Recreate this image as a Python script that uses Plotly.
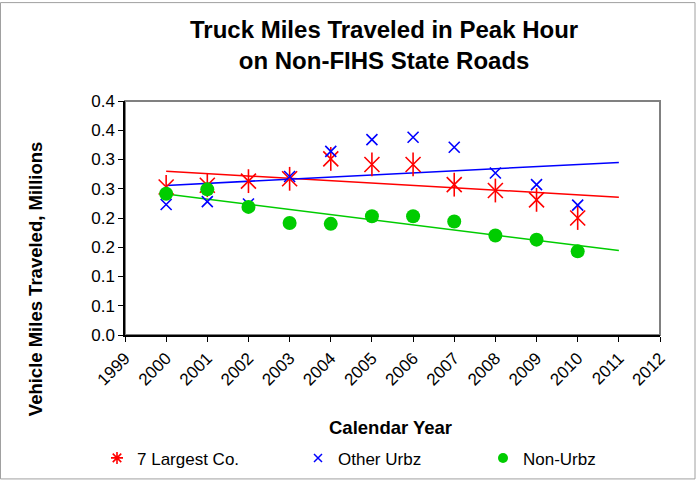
import numpy as np
import plotly.graph_objects as go

years = [2000, 2001, 2002, 2003, 2004, 2005, 2006, 2007, 2008, 2009, 2010]
largest7 = [0.253, 0.256, 0.263, 0.267, 0.301, 0.2915, 0.2915, 0.257, 0.247, 0.231, 0.200]
other_urbz = [0.223, 0.228, 0.224, 0.271, 0.314, 0.334, 0.338, 0.321, 0.277, 0.257, 0.222]
non_urbz = [0.2415, 0.249, 0.219, 0.1915, 0.190, 0.203, 0.203, 0.194, 0.170, 0.163, 0.143]

y_tickvals = [0, 0.05, 0.1, 0.15, 0.2, 0.25, 0.3, 0.35, 0.4]
y_ticktext = ["0.0", "0.1", "0.1", "0.2", "0.2", "0.3", "0.3", "0.4", "0.4"]
x_tickvals = list(range(1999, 2013))

RED, BLUE, GREEN = "#FF0000", "#0000FF", "#00CC00"
FONT = "Liberation Sans, Arial, sans-serif"

fig = go.Figure()

# linear trendlines, forecast forward 1 period
trend_x = [years[0], years[-1] + 1]
for vals, col in [(largest7, RED), (other_urbz, BLUE), (non_urbz, GREEN)]:
    m, b = np.polyfit(years, vals, 1)
    fig.add_trace(go.Scatter(x=trend_x, y=[m * x + b for x in trend_x], mode="lines",
                             line=dict(color=col, width=1.5), showlegend=False, hoverinfo="skip"))

# 7 Largest: star made of x + vertical line
fig.add_trace(go.Scatter(x=years, y=largest7, mode="markers", showlegend=False,
                         marker=dict(symbol="x-thin-open", size=15, color=RED, line=dict(width=1.6))))
fig.add_trace(go.Scatter(x=years, y=largest7, mode="markers", showlegend=False,
                         marker=dict(symbol="line-ns-open", size=17, color=RED, line=dict(width=1.6))))
fig.add_trace(go.Scatter(x=years, y=other_urbz, mode="markers", showlegend=False,
                         marker=dict(symbol="x-thin-open", size=11, color=BLUE, line=dict(width=1.6))))
fig.add_trace(go.Scatter(x=years, y=non_urbz, mode="markers", showlegend=False,
                         marker=dict(symbol="circle", size=14, color=GREEN)))

# legend entries with small symbols (as in the reference legend)
fig.add_trace(go.Scatter(x=[None], y=[None], mode="markers", name="7 Largest Co.", legend="legend",
                         marker=dict(symbol="asterisk-open", size=10, color=RED, line=dict(width=1.6))))
fig.add_trace(go.Scatter(x=[None], y=[None], mode="markers", name="Other Urbz", legend="legend2",
                         marker=dict(symbol="x-thin-open", size=8, color=BLUE, line=dict(width=1.5))))
fig.add_trace(go.Scatter(x=[None], y=[None], mode="markers", name="Non-Urbz", legend="legend3",
                         marker=dict(symbol="circle", size=10, color=GREEN)))

L, R, T, B = 125, 40, 101, 149
PW, PH = 700 - L - R, 489 - T - B

def px_x(p):
    return (p - L) / PW

def px_y(p):
    return (489 - B - p) / PH

def leg(xpix):
    return dict(orientation="h", x=px_x(xpix), y=px_y(466), xanchor="left", yanchor="middle",
                font=dict(size=17, family=FONT), itemwidth=30, bgcolor="rgba(0,0,0,0)")

fig.update_layout(
    width=700, height=489,
    margin=dict(l=L, r=R, t=T, b=B),
    paper_bgcolor="white", plot_bgcolor="white",
    font=dict(family=FONT, size=17, color="black"),
    showlegend=True,
    legend=leg(97), legend2=leg(298), legend3=leg(483),
    xaxis=dict(range=[1999, 2012], tickvals=x_tickvals, tickangle=-45, automargin=False,
               showline=True, linecolor="black", linewidth=1.5,
               ticks="outside", ticklen=5, tickcolor="black", showgrid=False, zeroline=False),
    yaxis=dict(range=[0, 0.4], tickvals=y_tickvals, ticktext=y_ticktext, automargin=False,
               showline=True, linecolor="black", linewidth=1.5,
               ticks="outside", ticklen=5, tickcolor="black", showgrid=False, zeroline=False),
    annotations=[
        dict(text="<b>Truck Miles Traveled in Peak Hour<br>on Non-FIHS State Roads</b>",
             xref="paper", yref="paper", x=px_x(384), y=px_y(44), showarrow=False,
             xanchor="center", yanchor="middle", font=dict(size=24, family=FONT)),
        dict(text="<b>Vehicle Miles Traveled, Millions</b>", xref="paper", yref="paper",
             x=px_x(35), y=px_y(283), textangle=-90, showarrow=False,
             xanchor="center", yanchor="middle", font=dict(size=18.5, family=FONT)),
        dict(text="<b>Calendar Year</b>", xref="paper", yref="paper",
             x=px_x(390), y=px_y(434), showarrow=False,
             xanchor="center", yanchor="middle", font=dict(size=18.5, family=FONT)),
    ],
    shapes=[
        dict(type="rect", xref="paper", yref="paper", x0=0, x1=1, y0=0, y1=1,
             line=dict(color="#808080", width=2), layer="below"),
        dict(type="rect", xref="paper", yref="paper",
             x0=px_x(0.5), x1=px_x(695), y0=px_y(487), y1=px_y(0.5),
             line=dict(color="#A0A0A0", width=1), layer="below"),
    ],
)

fig.write_html("out.html", config={"displayModeBar": False},
               post_script="document.body.style.margin='0px';")
